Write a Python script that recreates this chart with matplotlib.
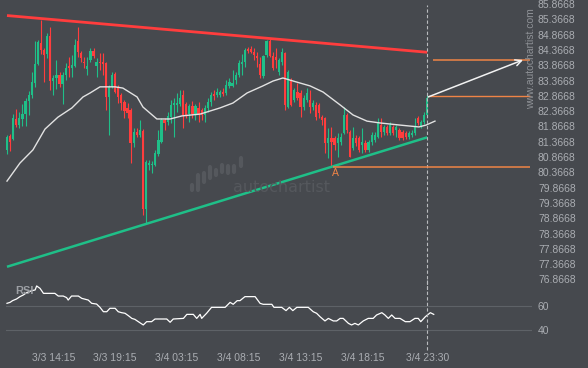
""" Autochartist style triangle pattern chart with RSI panel.
    15 min candles, moving average, pattern lines and forecast arrow.
"""

###########
# Imports #
###########
import numpy as np
import matplotlib
matplotlib.use('Agg')
import matplotlib.pyplot as plt
from matplotlib.lines import Line2D

plt.rcParams['font.family'] = ['Liberation Sans', 'DejaVu Sans']

BG = '#46494e'
TXT = '#aaadb2'
GREEN = '#1fbf88'
RED = '#ff3d3d'
ORANGE = '#ef8446'

########
# Data #
########
opens = [81.10, 81.55, 81.45, 82.11, 81.91, 82.11, 82.27, 82.70, 82.89, 83.29,
         83.91, 84.59, 84.37, 84.23, 84.82, 83.35, 83.45, 83.55, 83.25, 83.55,
         83.84, 83.78, 83.84, 84.66, 84.27, 83.97, 83.74, 84.04, 84.33, 83.84,
         83.97, 83.97, 83.94, 82.83, 83.16, 83.58, 83.16, 82.89, 82.66, 82.47,
         82.40, 81.32, 81.68, 81.59, 81.72, 79.17, 80.61, 80.61, 80.61, 80.96,
         81.36, 82.08, 82.01, 82.17, 82.57, 82.57, 82.60, 82.89, 82.60, 82.27,
         82.53, 82.27, 82.47, 82.40, 82.24, 82.47, 82.66, 82.93, 82.89, 82.89,
         82.99, 82.96, 83.19, 83.19, 83.38, 83.55, 83.91, 83.97, 84.40, 84.40,
         84.30, 84.17, 83.91, 83.51, 84.20, 84.66, 84.17, 84.14, 83.65, 83.97,
         84.27, 82.50, 83.38, 82.73, 82.99, 82.96, 82.50, 82.73, 82.73, 82.50,
         82.57, 82.57, 82.17, 82.14, 81.32, 81.49, 81.49, 81.32, 81.36, 81.65,
         82.24, 81.68, 81.16, 81.49, 81.49, 81.26, 81.32, 81.10, 81.36, 81.42,
         81.52, 81.91, 81.68, 81.85, 81.65, 81.85, 81.75, 81.75, 81.68, 81.65,
         81.52, 81.59, 81.65, 82.14, 81.85, 82.01, 82.24]
highs = [81.59, 81.62, 82.27, 82.44, 82.34, 82.60, 82.80, 83.02, 83.65, 84.66,
         84.69, 85.35, 84.43, 84.92, 85.12, 83.55, 84.04, 83.65, 83.65, 83.94,
         84.14, 84.20, 84.72, 85.12, 84.33, 84.14, 84.14, 84.43, 84.43, 84.10,
         84.27, 84.27, 83.97, 83.22, 83.65, 83.65, 83.22, 82.96, 82.73, 82.63,
         82.47, 81.81, 81.81, 82.08, 81.78, 80.77, 80.77, 80.74, 81.10, 81.75,
         82.14, 82.14, 82.34, 82.73, 82.80, 82.96, 83.06, 83.06, 82.66, 82.60,
         82.70, 82.60, 82.66, 82.47, 82.57, 82.80, 82.99, 83.06, 83.12, 83.06,
         83.12, 83.38, 83.45, 83.71, 83.65, 84.04, 84.23, 84.43, 84.46, 84.50,
         84.43, 84.30, 84.14, 84.20, 84.69, 84.72, 84.30, 84.43, 84.10, 84.43,
         84.30, 83.71, 83.45, 83.12, 83.29, 83.06, 82.89, 83.12, 83.06, 82.73,
         82.66, 82.63, 82.24, 82.17, 81.81, 81.85, 81.55, 81.65, 81.65, 82.50,
         82.30, 81.75, 81.85, 81.59, 81.55, 81.81, 81.42, 81.42, 81.68, 81.68,
         82.14, 82.14, 81.91, 81.91, 82.01, 81.91, 81.91, 81.81, 81.75, 81.72,
         81.72, 81.75, 82.14, 82.21, 82.08, 82.34, 82.89]
lows = [80.96, 81.06, 81.42, 81.85, 81.81, 81.88, 81.88, 82.24, 82.80, 83.16,
        83.87, 84.23, 83.32, 84.10, 83.06, 82.89, 83.09, 83.16, 82.60, 83.38,
        83.48, 83.48, 83.81, 84.14, 83.97, 83.78, 83.55, 83.97, 84.10, 83.48,
        83.71, 83.55, 82.40, 81.59, 83.12, 82.96, 82.63, 82.40, 82.14, 82.14,
        80.67, 81.19, 81.52, 81.52, 78.97, 78.71, 80.44, 80.34, 80.57, 80.90,
        81.32, 81.75, 81.91, 81.98, 81.52, 82.34, 82.53, 81.81, 82.14, 82.01,
        82.14, 82.08, 82.01, 82.08, 82.01, 82.34, 82.53, 82.73, 82.83, 82.83,
        82.86, 82.89, 83.12, 83.16, 83.25, 83.48, 83.55, 83.81, 84.27, 84.27,
        84.04, 83.81, 83.45, 83.45, 84.14, 84.14, 83.71, 83.78, 83.55, 83.87,
        82.40, 82.47, 82.53, 82.66, 82.73, 82.17, 82.40, 82.66, 82.30, 82.40,
        82.08, 82.14, 81.91, 81.00, 80.83, 80.54, 81.10, 80.87, 81.26, 81.62,
        81.65, 80.87, 81.10, 81.23, 81.03, 81.00, 81.03, 81.03, 81.26, 81.36,
        81.49, 81.52, 81.59, 81.59, 81.59, 81.59, 81.52, 81.42, 81.42, 81.45,
        81.45, 81.52, 81.59, 81.91, 81.81, 81.94, 82.21]
closes = [81.52, 81.36, 82.14, 81.91, 82.14, 82.27, 82.70, 82.89, 83.32, 83.91,
          84.63, 84.37, 84.20, 84.82, 83.35, 83.45, 83.55, 83.25, 83.55, 83.78,
          83.78, 83.87, 84.53, 84.30, 84.10, 83.94, 83.84, 84.33, 84.17, 83.97,
          83.94, 83.91, 82.83, 83.16, 83.55, 82.99, 82.83, 82.63, 82.37, 82.30,
          81.32, 81.68, 81.59, 81.75, 79.17, 80.70, 80.67, 80.64, 81.00, 81.42,
          82.08, 81.98, 82.21, 82.57, 82.63, 82.63, 82.80, 82.24, 82.24, 82.53,
          82.27, 82.53, 82.24, 82.24, 82.47, 82.66, 82.89, 82.86, 82.99, 82.99,
          82.93, 83.22, 83.32, 83.29, 83.55, 83.94, 83.97, 84.37, 84.33, 84.30,
          84.20, 84.10, 83.55, 84.17, 84.66, 84.17, 83.78, 84.04, 84.04, 84.30,
          82.57, 83.65, 82.57, 83.06, 82.80, 82.50, 82.80, 82.96, 82.50, 82.63,
          82.17, 82.30, 82.08, 81.32, 81.49, 81.36, 81.26, 81.49, 81.52, 82.24,
          81.75, 80.87, 81.49, 81.32, 81.10, 81.36, 81.10, 81.36, 81.59, 81.59,
          81.98, 81.68, 81.85, 81.65, 81.91, 81.65, 81.85, 81.49, 81.49, 81.52,
          81.65, 81.65, 81.85, 81.98, 82.01, 82.24, 82.80]

# Moving average (read at bar positions)
ma_x = [0, 4.2, 8.4, 12.3, 16.5, 21.0, 24.6, 26.9, 30.1, 35.0, 37.5, 42.1,
        44.0, 48.5, 52.8, 56.6, 62.5, 68.9, 73.1, 77.7, 82.8, 86.1, 89.3,
        92.6, 98.1, 102.3, 107.8, 112.0, 116.5, 120.7, 127.2, 133.3, 135.6, 138.5]
ma_v = [80.08, 80.67, 81.10, 81.78, 82.17, 82.47, 82.83, 82.96, 83.16, 83.16,
        83.12, 82.83, 82.50, 82.11, 82.11, 82.21, 82.27, 82.47, 82.63, 82.96,
        83.19, 83.35, 83.45, 83.35, 83.19, 82.99, 82.57, 82.24, 82.04, 81.98,
        81.91, 81.85, 81.91, 82.04]

# RSI
rsi_x = [0, 1.0, 1.8, 3.1, 4.2, 5.3, 6.4, 8.0, 9.1, 9.6, 10.7, 11.8, 12.8,
         15.5, 16.6, 18.2, 19.3, 19.8, 20.9, 23.1, 24.2, 26.3, 27.4, 29.0,
         30.1, 31.2, 32.3, 33.3, 35.0, 36.0, 37.1, 38.2, 39.3, 40.4, 41.4,
         42.5, 44.1, 45.2, 46.8, 47.9, 51.7, 52.8, 53.8, 57.1, 58.2, 60.3,
         61.4, 62.5, 63.0, 64.6, 66.2, 70.6, 72.2, 73.2, 74.5, 75.4, 77.0,
         80.3, 81.9, 82.9, 85.7, 86.4, 88.9, 90.3, 91.4, 92.5, 93.8, 94.8,
         97.5, 99.1, 100.2, 101.3, 102.9, 104.0, 105.6, 106.7, 107.8, 108.8,
         110.5, 111.5, 112.6, 113.7, 115.3, 116.9, 118.5, 119.6, 121.3, 122.3,
         123.4, 124.5, 125.6, 127.2, 128.9, 130.4, 132.0, 133.1, 133.9, 135.4,
         137.0, 138.1]
rsi_v = [62.2, 63.0, 64.4, 65.8, 67.7, 69.1, 71.0, 72.6, 73.2, 76.5, 74.5,
         70.4, 70.4, 70.4, 68.2, 68.2, 66.9, 64.9, 68.2, 68.2, 66.3, 64.9,
         62.2, 61.6, 58.9, 55.3, 55.3, 58.1, 58.1, 55.3, 54.5, 54.0, 52.0,
         49.8, 49.0, 47.1, 44.4, 47.1, 47.1, 49.3, 49.3, 46.6, 49.3, 49.8,
         53.1, 53.1, 49.8, 53.1, 49.8, 54.0, 58.9, 58.9, 63.0, 61.4, 64.4,
         64.4, 67.7, 67.7, 62.2, 61.4, 61.4, 58.9, 58.9, 56.2, 58.9, 56.2,
         58.9, 58.9, 58.9, 55.3, 54.0, 51.2, 47.7, 49.8, 47.7, 47.7, 49.8,
         49.8, 45.7, 44.4, 45.7, 44.4, 47.7, 49.8, 49.8, 52.6, 54.5, 52.6,
         49.8, 52.6, 49.8, 49.8, 47.1, 47.1, 49.8, 49.8, 47.1, 51.2, 54.5, 53.1]

# Pattern lines
line_x = [0, 136]
resist_y = [85.49, 84.29]
support_y = [77.28, 81.51]
last_bar = 136

# Point A and forecast
a_bar, a_price = 105.5, 80.53
a_label_x, a_label_y = 106.3, 80.35
cur_bar, cur_price = 136.3, 82.8668
target_bar, target_price = 137.9, 84.03
arrow_from = (136.3, 82.83)
arrow_to = (167.0, 84.04)

# Axis labels
price_ticks = [76.8668 + 0.5 * k for k in range(19)]
date_ticks = [15, 35, 55, 75, 95, 115, 136]
date_labels = ['3/3 14:15', '3/3 19:15', '3/4 03:15', '3/4 08:15',
               '3/4 13:15', '3/4 18:15', '3/4 23:30']

##########
# Layout #
##########
W, H = 588, 368
X_LIM = (-0.32, 169.9)

fig = plt.figure(figsize=(W / 100, H / 100), dpi=100, facecolor=BG)
ax = fig.add_axes([6 / W, 1 - 290 / H, 526 / W, 290 / H])
rsi_ax = fig.add_axes([6 / W, 1 - 345 / H, 526 / W, 65 / H])
for a in (ax, rsi_ax):
    a.set_facecolor('none')
    for s in a.spines.values():
        s.set_visible(False)
    a.set_xlim(*X_LIM)

ax.set_ylim(76.521, 85.998)
rsi_ax.set_ylim(27.9, 81.4)

# Watermark (behind everything)
logo = [(192, 185, 190), (198, 175, 190), (204, 173, 182), (210, 167, 178),
        (216, 170, 175), (222, 165, 172), (228, 166, 173), (234, 166, 172),
        (241, 158, 166)]
for lx, y0, y1 in logo:
    fig.add_artist(Line2D([lx / W, lx / W], [1 - y0 / H, 1 - y1 / H],
                          transform=fig.transFigure, lw=3, color='#55585d',
                          solid_capstyle='round', zorder=0))
fig.text(282 / W, 1 - 187 / H, 'autochartist', ha='center', va='center',
         fontsize=11.5, color='#55585d', family='DejaVu Sans', zorder=0)

###########
# Candles #
###########
o = np.array(opens)
h = np.array(highs)
l = np.array(lows)
c = np.array(closes)
x = np.arange(len(c))
cols = np.where(c >= o, GREEN, RED)
ax.vlines(x, l, h, colors=cols, linewidth=0.8, zorder=2)
body = np.maximum(np.abs(c - o), 0.03)
ax.bar(x, body, bottom=np.minimum(o, c), width=0.72, color=cols, zorder=3)

# Moving average
ax.plot(ma_x, ma_v, color='#e2e2e2', lw=1.0, zorder=4)

# Pattern lines
ax.plot(line_x, resist_y, color=RED, lw=2.0, zorder=5, solid_capstyle='butt')
ax.plot(line_x, support_y, color=GREEN, lw=1.8, zorder=5, solid_capstyle='butt')

# Vertical marker at pattern end
ax.axvline(last_bar, ymin=0, ymax=0.983, color='#b9bbbe', lw=0.8,
           ls=(0, (3, 2)), zorder=6)
rsi_ax.axvline(last_bar, ymin=-0.08, ymax=1, color='#b9bbbe', lw=0.8,
               ls=(0, (3, 2)), clip_on=False, zorder=6)

# Point A, current price, target
ax.hlines(a_price, a_bar, 169.3, color=ORANGE, lw=1.1, zorder=6)
ax.text(a_label_x, a_label_y, 'A', color=ORANGE, fontsize=7.5,
        ha='center', va='center')
ax.hlines(cur_price, cur_bar, 169.3, color=ORANGE, lw=1.0, zorder=6)
ax.hlines(target_price, target_bar, 169.3, color=ORANGE, lw=1.1, zorder=6)
ax.annotate('', xy=arrow_to, xytext=arrow_from,
            arrowprops=dict(arrowstyle='->', color='#f2f2f2', lw=1.1,
                            mutation_scale=11, shrinkA=0, shrinkB=0),
            zorder=7)

# Price axis
ax.set_xticks([])
ax.yaxis.tick_right()
ax.set_yticks(price_ticks)
ax.set_yticklabels([f'{p:.4f}' for p in price_ticks])
ax.tick_params(axis='y', length=0, pad=4.3, labelsize=7.5, labelcolor=TXT)

fig.text(531 / W, 1 - 59 / H, 'www.autochartist.com', rotation=90,
         ha='center', va='center', fontsize=7.5, color='#8e9196')

#######
# RSI #
#######
rsi_ax.plot(rsi_x, rsi_v, color='white', lw=0.9, zorder=3)
rsi_ax.yaxis.tick_right()
rsi_ax.set_yticks([40, 60])
rsi_ax.grid(axis='y', color='#5e6267', lw=0.8)
rsi_ax.set_xticks(date_ticks)
rsi_ax.set_xticklabels(date_labels)
rsi_ax.tick_params(axis='y', length=0, pad=4.3, labelsize=7.5, labelcolor=TXT)
rsi_ax.tick_params(axis='x', length=0, pad=5.8, labelsize=7.5, labelcolor=TXT)
rsi_ax.text(0.017, 0.83, 'RSI', transform=rsi_ax.transAxes, fontsize=8,
            fontweight='bold', color='#9c9fa4', ha='left', va='center')

fig.savefig('out.png', dpi=100, facecolor=BG)
